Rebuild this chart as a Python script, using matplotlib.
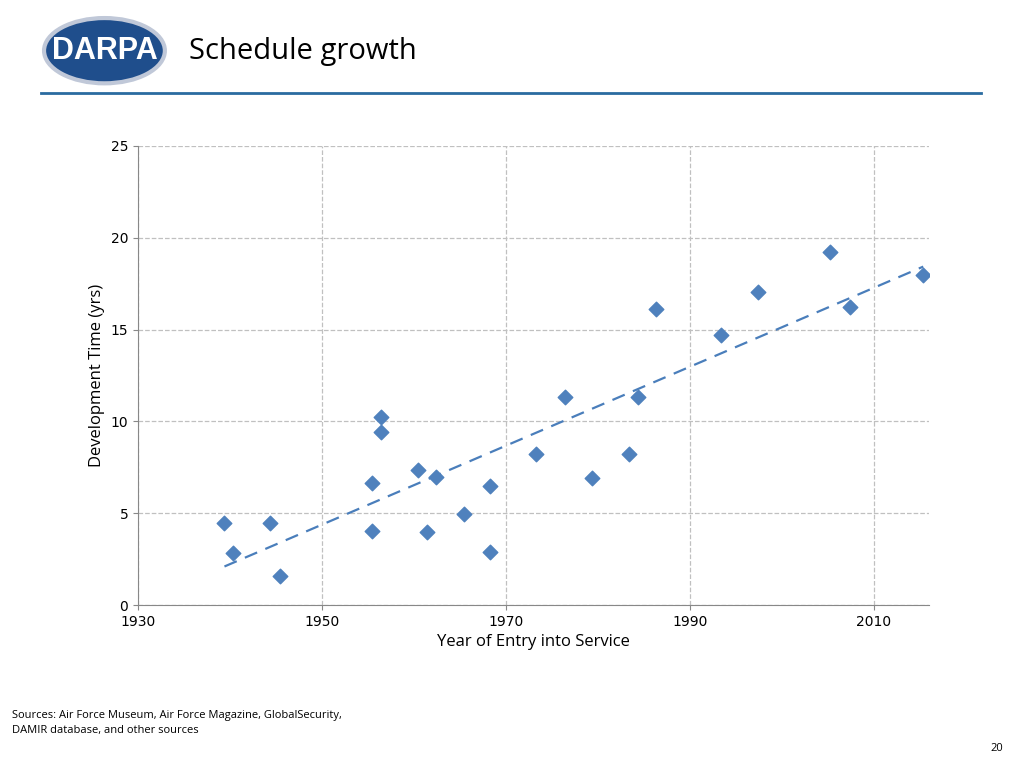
import numpy as np
import matplotlib.pyplot as plt
from matplotlib.patches import Ellipse

# Year of entry into service and development time (years)
anos = [1939.4, 1940.3, 1944.4, 1945.4, 1955.4, 1955.4, 1956.4, 1956.4, 1960.4,
        1961.4, 1962.4, 1965.4, 1968.3, 1968.3, 1973.3, 1976.4, 1979.4, 1983.4,
        1984.4, 1986.3, 1993.4, 1997.4, 2005.3, 2007.4, 2015.4]
tiempos = [4.47, 2.83, 4.47, 1.58, 6.64, 4.03, 10.24, 9.42, 7.35,
           3.98, 6.97, 4.96, 6.48, 2.89, 8.22, 11.33, 6.92, 8.22,
           11.33, 16.12, 14.7, 17.05, 19.23, 16.23, 17.97]

fig = plt.figure(figsize=(10.24, 7.68), dpi=100)

# Cabecera: logo, titulo y linea azul
fig.patches.append(Ellipse((0.102, 0.934), 0.118, 0.085, transform=fig.transFigure,
                           facecolor='#1f4e8c', edgecolor='#c0c8d8', linewidth=3))
fig.text(0.102, 0.934, 'DARPA', color='white', fontsize=22, fontweight='bold',
         ha='center', va='center', family='Liberation Sans')
fig.text(0.185, 0.933, 'Schedule growth', fontsize=21, va='center', family='Open Sans')
fig.add_artist(plt.Line2D([0.04, 0.958], [0.879, 0.879], color='#2a6ba0', linewidth=2))

ax = fig.add_axes([0.1348, 0.2122, 0.7722, 0.5977])
ax.scatter(anos, tiempos, marker='D', s=55, color='#4f81bd', zorder=3)

# Linea de tendencia
p = np.polyfit(anos, tiempos, 1)
xs = np.array([min(anos), max(anos)])
ax.plot(xs, np.polyval(p, xs), linestyle=(0, (6, 4)), color='#4a7ebb', linewidth=1.6, zorder=2)

ax.set_xlim(1930, 2016)
ax.set_ylim(0, 25)
ax.set_xticks([1930, 1950, 1970, 1990, 2010])
ax.set_yticks([0, 5, 10, 15, 20, 25])
ax.grid(True, linestyle='--', color='#c0c0c0', linewidth=0.9)
for lado in ['top', 'right']:
    ax.spines[lado].set_visible(False)
ax.spines['left'].set_color('#888888')
ax.spines['bottom'].set_color('#888888')
ax.tick_params(labelsize=10, color='#888888')
ax.set_xlabel('Year of Entry into Service', fontsize=12, family='Open Sans')
ax.set_ylabel('Development Time (yrs)', fontsize=12, family='Open Sans')

fig.text(0.012, 0.058, 'Sources: Air Force Museum, Air Force Magazine, GlobalSecurity,\nDAMIR database, and other sources',
         fontsize=8, va='center', family='Open Sans', linespacing=1.5)
fig.text(0.98, 0.025, '20', fontsize=8, ha='right', va='center', family='Open Sans')

fig.savefig('out.png')
